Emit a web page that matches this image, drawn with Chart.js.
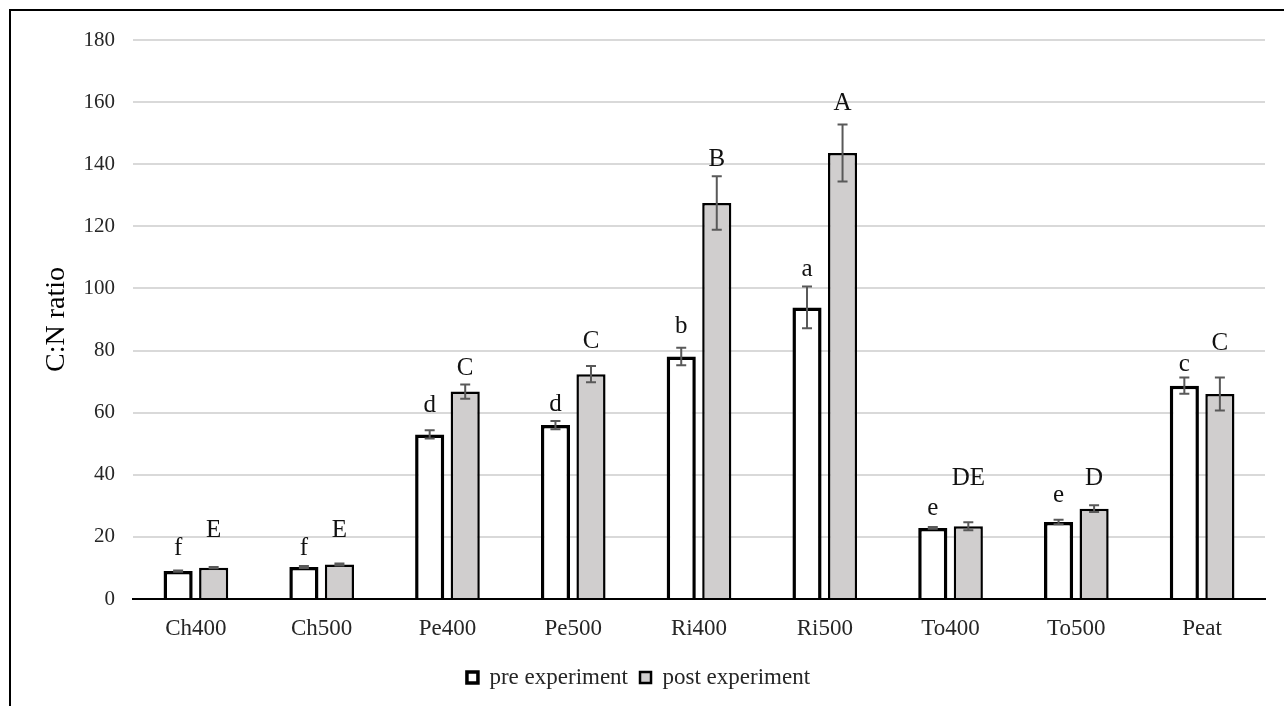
<!DOCTYPE html>
<html>
<head>
<meta charset="utf-8">
<script src="https://cdn.jsdelivr.net/npm/chart.js@4/dist/chart.umd.min.js"></script>
<style>
  html, body { margin: 0; padding: 0; background: #fff; }
  #wrap { position: relative; width: 1284px; height: 706px; }
  #frame { position: absolute; left: 9px; top: 9px; width: 1290px; height: 720px; border: 2px solid #000; box-sizing: border-box; }
  canvas { position: absolute; left: 0; top: 0; }
</style>
</head>
<body>
<div id="wrap">
  <div id="frame"></div>
  <canvas id="myChart" width="1284" height="706"></canvas>
</div>
<script>
// categories and values
var samples = ['Ch400', 'Ch500', 'Pe400', 'Pe500', 'Ri400', 'Ri500', 'To400', 'To500', 'Peat'];
var preValues  = [9.0, 10.3, 53, 56, 78.1, 93.9, 22.9, 24.8, 68.7];
var postValues = [10.1, 11.1, 66.8, 72.4, 127.5, 143.6, 23.4, 29.1, 66];
var preErrors  = [0.2, 0.3, 1.3, 1.3, 2.8, 6.7, 0.3, 0.7, 2.6];
var postErrors = [0.2, 0.3, 2.3, 2.6, 8.6, 9.2, 1.3, 1.1, 5.3];
var preLetters  = ['f', 'f', 'd', 'd', 'b', 'a', 'e', 'e', 'c'];
var postLetters = ['E', 'E', 'C', 'C', 'B', 'A', 'DE', 'D', 'C'];
// height (in C:N units) at which each letter sits
var preLetterAt  = [17, 17, 62.9, 63.2, 88.4, 106, 29.1, 33.1, 75.2];
var postLetterAt = [22.7, 22.7, 74.8, 83.5, 142.3, 160.3, 39.4, 39.4, 82.9];

var errors = [preErrors, postErrors];
var letters = [preLetters, postLetters];
var letterAt = [preLetterAt, postLetterAt];

// error bars and significance letters drawn from the bar elements
var extras = {
  id: 'extras',
  afterDatasetsDraw: function (chart) {
    var ctx = chart.ctx;
    var y = chart.scales.y;
    ctx.save();
    chart.data.datasets.forEach(function (ds, di) {
      var meta = chart.getDatasetMeta(di);
      meta.data.forEach(function (bar, i) {
        var v = ds.data[i];
        var e = errors[di][i];
        var top = y.getPixelForValue(v + e);
        var bot = y.getPixelForValue(v - e);
        ctx.strokeStyle = '#595959';
        ctx.lineWidth = 2;
        ctx.beginPath();
        ctx.moveTo(bar.x, top); ctx.lineTo(bar.x, bot);
        ctx.moveTo(bar.x - 5, top); ctx.lineTo(bar.x + 5, top);
        ctx.moveTo(bar.x - 5, bot); ctx.lineTo(bar.x + 5, bot);
        ctx.stroke();
        // centre the glyphs on the letter height
        var txt = letters[di][i];
        ctx.fillStyle = '#111';
        ctx.font = '25px "Liberation Serif"';
        ctx.textAlign = 'center';
        ctx.textBaseline = 'alphabetic';
        var m = ctx.measureText(txt);
        var cy = y.getPixelForValue(letterAt[di][i]);
        ctx.fillText(txt, bar.x, cy + (m.actualBoundingBoxAscent - m.actualBoundingBoxDescent) / 2);
      });
    });
    ctx.restore();
  }
};

var ctx = document.getElementById('myChart').getContext('2d');
Chart.defaults.font.family = '"Liberation Serif", "Times New Roman", serif';
Chart.defaults.color = '#262626';

var chart = new Chart(ctx, {
  type: 'bar',
  data: {
    labels: samples,
    datasets: [{
      label: 'pre experiment',
      data: preValues,
      backgroundColor: '#ffffff',
      borderColor: '#000000',
      borderWidth: 3.5,
      barPercentage: 0.82,
      categoryPercentage: 0.565
    }, {
      label: 'post experiment',
      data: postValues,
      backgroundColor: '#d0cece',
      borderColor: '#000000',
      borderWidth: 2.5,
      barPercentage: 0.82,
      categoryPercentage: 0.565
    }]
  },
  options: {
    responsive: false,
    animation: false,
    layout: { padding: { left: 12, top: 40, right: 19, bottom: 7 } },
    plugins: {
      legend: {
        position: 'bottom',
        labels: {
          font: { size: 23 },
          color: '#262626',
          boxWidth: 11,
          boxHeight: 11,
          padding: 12
        }
      },
      tooltip: { enabled: false }
    },
    scales: {
      x: {
        afterFit: function (scale) { scale.height = 55; },
        grid: { display: false, drawTicks: false },
        border: { color: '#000', width: 2 },
        ticks: { font: { size: 23 }, color: '#262626', padding: 16 }
      },
      y: {
        min: 0,
        max: 180,
        afterFit: function (scale) { scale.width = 121; },
        grid: { color: '#d9d9d9', lineWidth: 2, drawTicks: false },
        border: { display: false },
        ticks: { stepSize: 20, font: { size: 21 }, color: '#262626', padding: 18 },
        title: { display: true, text: 'C:N ratio', font: { size: 28 }, color: '#000', padding: { top: 28, bottom: 0 } }
      }
    }
  },
  plugins: [extras]
});
</script>
</body>
</html>
